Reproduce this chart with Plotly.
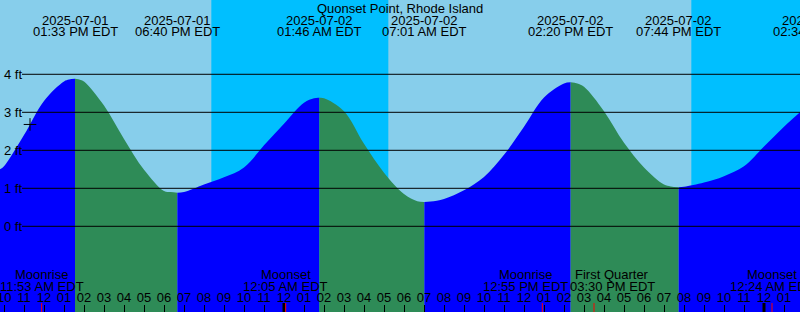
import plotly.graph_objects as go
from datetime import datetime

# ---------------- data ----------------
station = "Quonset Point, Rhode Island"
view_start = "2025-07-01 09:48"
view_end = "2025-07-03 01:48"

tide_times = [
    "2025-07-01 09:48", "2025-07-01 10:00", "2025-07-01 11:00", "2025-07-01 12:00",
    "2025-07-01 13:00", "2025-07-01 13:15", "2025-07-01 13:33", "2025-07-01 13:50",
    "2025-07-01 14:00", "2025-07-01 15:00", "2025-07-01 16:00", "2025-07-01 17:00",
    "2025-07-01 18:00", "2025-07-01 18:20", "2025-07-01 18:40", "2025-07-01 19:00",
    "2025-07-01 20:00", "2025-07-01 21:00", "2025-07-01 22:00", "2025-07-01 23:00",
    "2025-07-02 00:00", "2025-07-02 01:00", "2025-07-02 01:30", "2025-07-02 01:46",
    "2025-07-02 02:00", "2025-07-02 03:00", "2025-07-02 04:00", "2025-07-02 05:00",
    "2025-07-02 06:00", "2025-07-02 06:40", "2025-07-02 07:01", "2025-07-02 07:20",
    "2025-07-02 08:00", "2025-07-02 09:00", "2025-07-02 10:00", "2025-07-02 11:00",
    "2025-07-02 12:00", "2025-07-02 13:00", "2025-07-02 14:00", "2025-07-02 14:20",
    "2025-07-02 14:40", "2025-07-02 15:00", "2025-07-02 16:00", "2025-07-02 17:00",
    "2025-07-02 18:00", "2025-07-02 19:00", "2025-07-02 19:20", "2025-07-02 19:44",
    "2025-07-02 20:00", "2025-07-02 21:00", "2025-07-02 22:00", "2025-07-02 23:00",
    "2025-07-03 00:00", "2025-07-03 01:00", "2025-07-03 01:48",
]
tide_heights = [
    1.50, 1.58, 2.40, 3.30,
    3.81, 3.86, 3.88, 3.85,
    3.81, 3.18, 2.30, 1.49,
    0.93, 0.90, 0.88, 0.90,
    1.10, 1.29, 1.55, 2.13,
    2.70, 3.25, 3.37, 3.38,
    3.37, 3.03, 2.17, 1.41,
    0.85, 0.66, 0.64, 0.65,
    0.72, 0.95, 1.30, 1.88,
    2.62, 3.39, 3.76, 3.79,
    3.76, 3.67, 3.03, 2.20,
    1.55, 1.10, 1.05, 1.03,
    1.04, 1.15, 1.32, 1.58,
    2.10, 2.62, 3.00,
]

extreme_times = [
    "2025-07-01 13:33", "2025-07-01 18:40", "2025-07-02 01:46", "2025-07-02 07:01",
    "2025-07-02 14:20", "2025-07-02 19:44", "2025-07-03 02:34",
]
sunset_times = ["2025-07-01 20:22", "2025-07-02 20:22"]
sunrise_times = ["2025-07-02 05:13"]
moon_times = ["2025-07-01 11:53", "2025-07-02 00:05", "2025-07-02 12:55",
              "2025-07-02 15:30", "2025-07-03 00:24"]
moon_names = ["Moonrise", "Moonset", "Moonrise", "First Quarter", "Moonset"]
midnight_times = ["2025-07-02 00:00", "2025-07-03 00:00"]
edge_hour_ticks = ["2025-07-01 10:00"]
now_time = "2025-07-01 11:18"
now_height = 2.68
ft_levels = [0, 1, 2, 3, 4]
ft_labels = ["0 ft", "1 ft", "2 ft", "3 ft", "4 ft"]

# ---------------- style ----------------
W, H = 800, 312
Y_RANGE = [-2.255, 5.955]
DAY = "#87CEEB"
NIGHT = "#00BFFF"
RISE = "#0000FF"
FALL = "#2E8B57"
FONT = "Liberation Sans, Arial, sans-serif"
moon_label_shift = [0, 0, -17, 18, 0]   # px, labels nudged apart to avoid collision

P = lambda s: datetime.strptime(s, "%Y-%m-%d %H:%M")
t0, t1 = P(view_start), P(view_end)


def frac(s):
    return (P(s) - t0).total_seconds() / (t1 - t0).total_seconds()


fig = go.Figure()

# tide fill segments split at high/low
bounds = [view_start] + [e for e in extreme_times if t0 < P(e) < t1] + [view_end]
floor = Y_RANGE[0] - 1
for a, b in zip(bounds[:-1], bounds[1:]):
    xs = [t for t in tide_times if P(a) <= P(t) <= P(b)]
    ys = [h for t, h in zip(tide_times, tide_heights) if P(a) <= P(t) <= P(b)]
    color = RISE if ys[-1] > ys[0] else FALL
    fig.add_trace(go.Scatter(x=[a, b], y=[floor, floor], mode="lines",
                             line=dict(width=0), hoverinfo="skip", showlegend=False))
    fig.add_trace(go.Scatter(x=xs, y=ys, mode="lines",
                             line=dict(width=0, shape="spline", smoothing=1),
                             fill="tonexty", fillcolor=color,
                             hoverinfo="skip", showlegend=False))

# current time marker
fig.add_trace(go.Scatter(x=[now_time], y=[now_height], mode="markers",
                         marker=dict(symbol="cross-thin", size=9,
                                     line=dict(color="black", width=1)),
                         hoverinfo="skip", showlegend=False))

shapes = []
# night backgrounds
night_starts = sunset_times
night_ends = sunrise_times + [view_end]
for s, e in zip(night_starts, night_ends):
    shapes.append(dict(type="rect", xref="x", yref="paper", x0=s, x1=e, y0=0, y1=1,
                       fillcolor=NIGHT, line=dict(width=0), layer="below"))
# foot lines
for lv in ft_levels:
    shapes.append(dict(type="line", xref="paper", yref="y", x0=22 / W, x1=1,
                       y0=lv, y1=lv, line=dict(color="black", width=1), layer="above"))
# midnight ticks
for m in midnight_times:
    shapes.append(dict(type="line", xref="x", yref="paper", x0=m, x1=m,
                       y0=0, y1=9 / H, line=dict(color="black", width=3), layer="above"))
# moon event ticks
for m in moon_times:
    shapes.append(dict(type="line", xref="x", yref="paper", x0=m, x1=m,
                       y0=0, y1=9 / H, line=dict(color="red", width=1), layer="above"))

ann = []
ann.append(dict(text=station, xref="paper", yref="paper", x=0.5, y=1 - 8 / H,
                showarrow=False, font=dict(family=FONT, size=13, color="black"),
                xanchor="center", yanchor="middle"))
for e in extreme_times:
    d = P(e)
    ann.append(dict(text=d.strftime("%Y-%m-%d"), xref="paper", yref="paper",
                    x=frac(e), y=1 - 20 / H, showarrow=False,
                    font=dict(family=FONT, size=13, color="black"),
                    xanchor="center", yanchor="middle"))
    ann.append(dict(text=d.strftime("%I:%M %p EDT"), xref="paper", yref="paper",
                    x=frac(e), y=1 - 32 / H, showarrow=False,
                    font=dict(family=FONT, size=13, color="black"),
                    xanchor="center", yanchor="middle"))
for m, n, sh in zip(moon_times, moon_names, moon_label_shift):
    d = P(m)
    ann.append(dict(text=n, xref="paper", yref="paper", x=frac(m), y=1 - 274 / H,
                    xshift=sh, showarrow=False,
                    font=dict(family=FONT, size=13, color="black"),
                    xanchor="center", yanchor="middle"))
    ann.append(dict(text=d.strftime("%I:%M %p EDT"), xref="paper", yref="paper",
                    x=frac(m), y=1 - 286 / H, xshift=sh, showarrow=False,
                    font=dict(family=FONT, size=13, color="black"),
                    xanchor="center", yanchor="middle"))
# hour labels the axis drops at the plot edge
for t in edge_hour_ticks:
    ann.append(dict(text=P(t).strftime("%I"), xref="paper", yref="paper",
                    x=frac(t), y=1 - 297 / H, showarrow=False,
                    font=dict(family=FONT, size=13, color="black"),
                    xanchor="center", yanchor="middle"))
for lv, lb in zip(ft_levels, ft_labels):
    ann.append(dict(text=lb, xref="paper", yref="y", x=2 / W, y=lv,
                    showarrow=False, font=dict(family=FONT, size=13, color="black"),
                    xanchor="left", yanchor="middle"))

fig.update_layout(
    width=W, height=H, margin=dict(l=0, r=0, t=0, b=0, pad=0),
    plot_bgcolor=DAY, paper_bgcolor=DAY,
    shapes=shapes, annotations=ann, showlegend=False,
    xaxis=dict(type="date", range=[view_start, view_end], showgrid=False,
               zeroline=False, showline=False, tickmode="linear",
               tick0="2025-07-01 10:00", dtick=3600000, tickformat="%I",
               ticks="inside", ticklen=7, tickwidth=1, tickcolor="black",
               ticklabelposition="inside",
               tickfont=dict(family=FONT, size=13, color="black"),
               fixedrange=True),
    yaxis=dict(range=Y_RANGE, visible=False, fixedrange=True),
)

fig.write_html("out.html")
